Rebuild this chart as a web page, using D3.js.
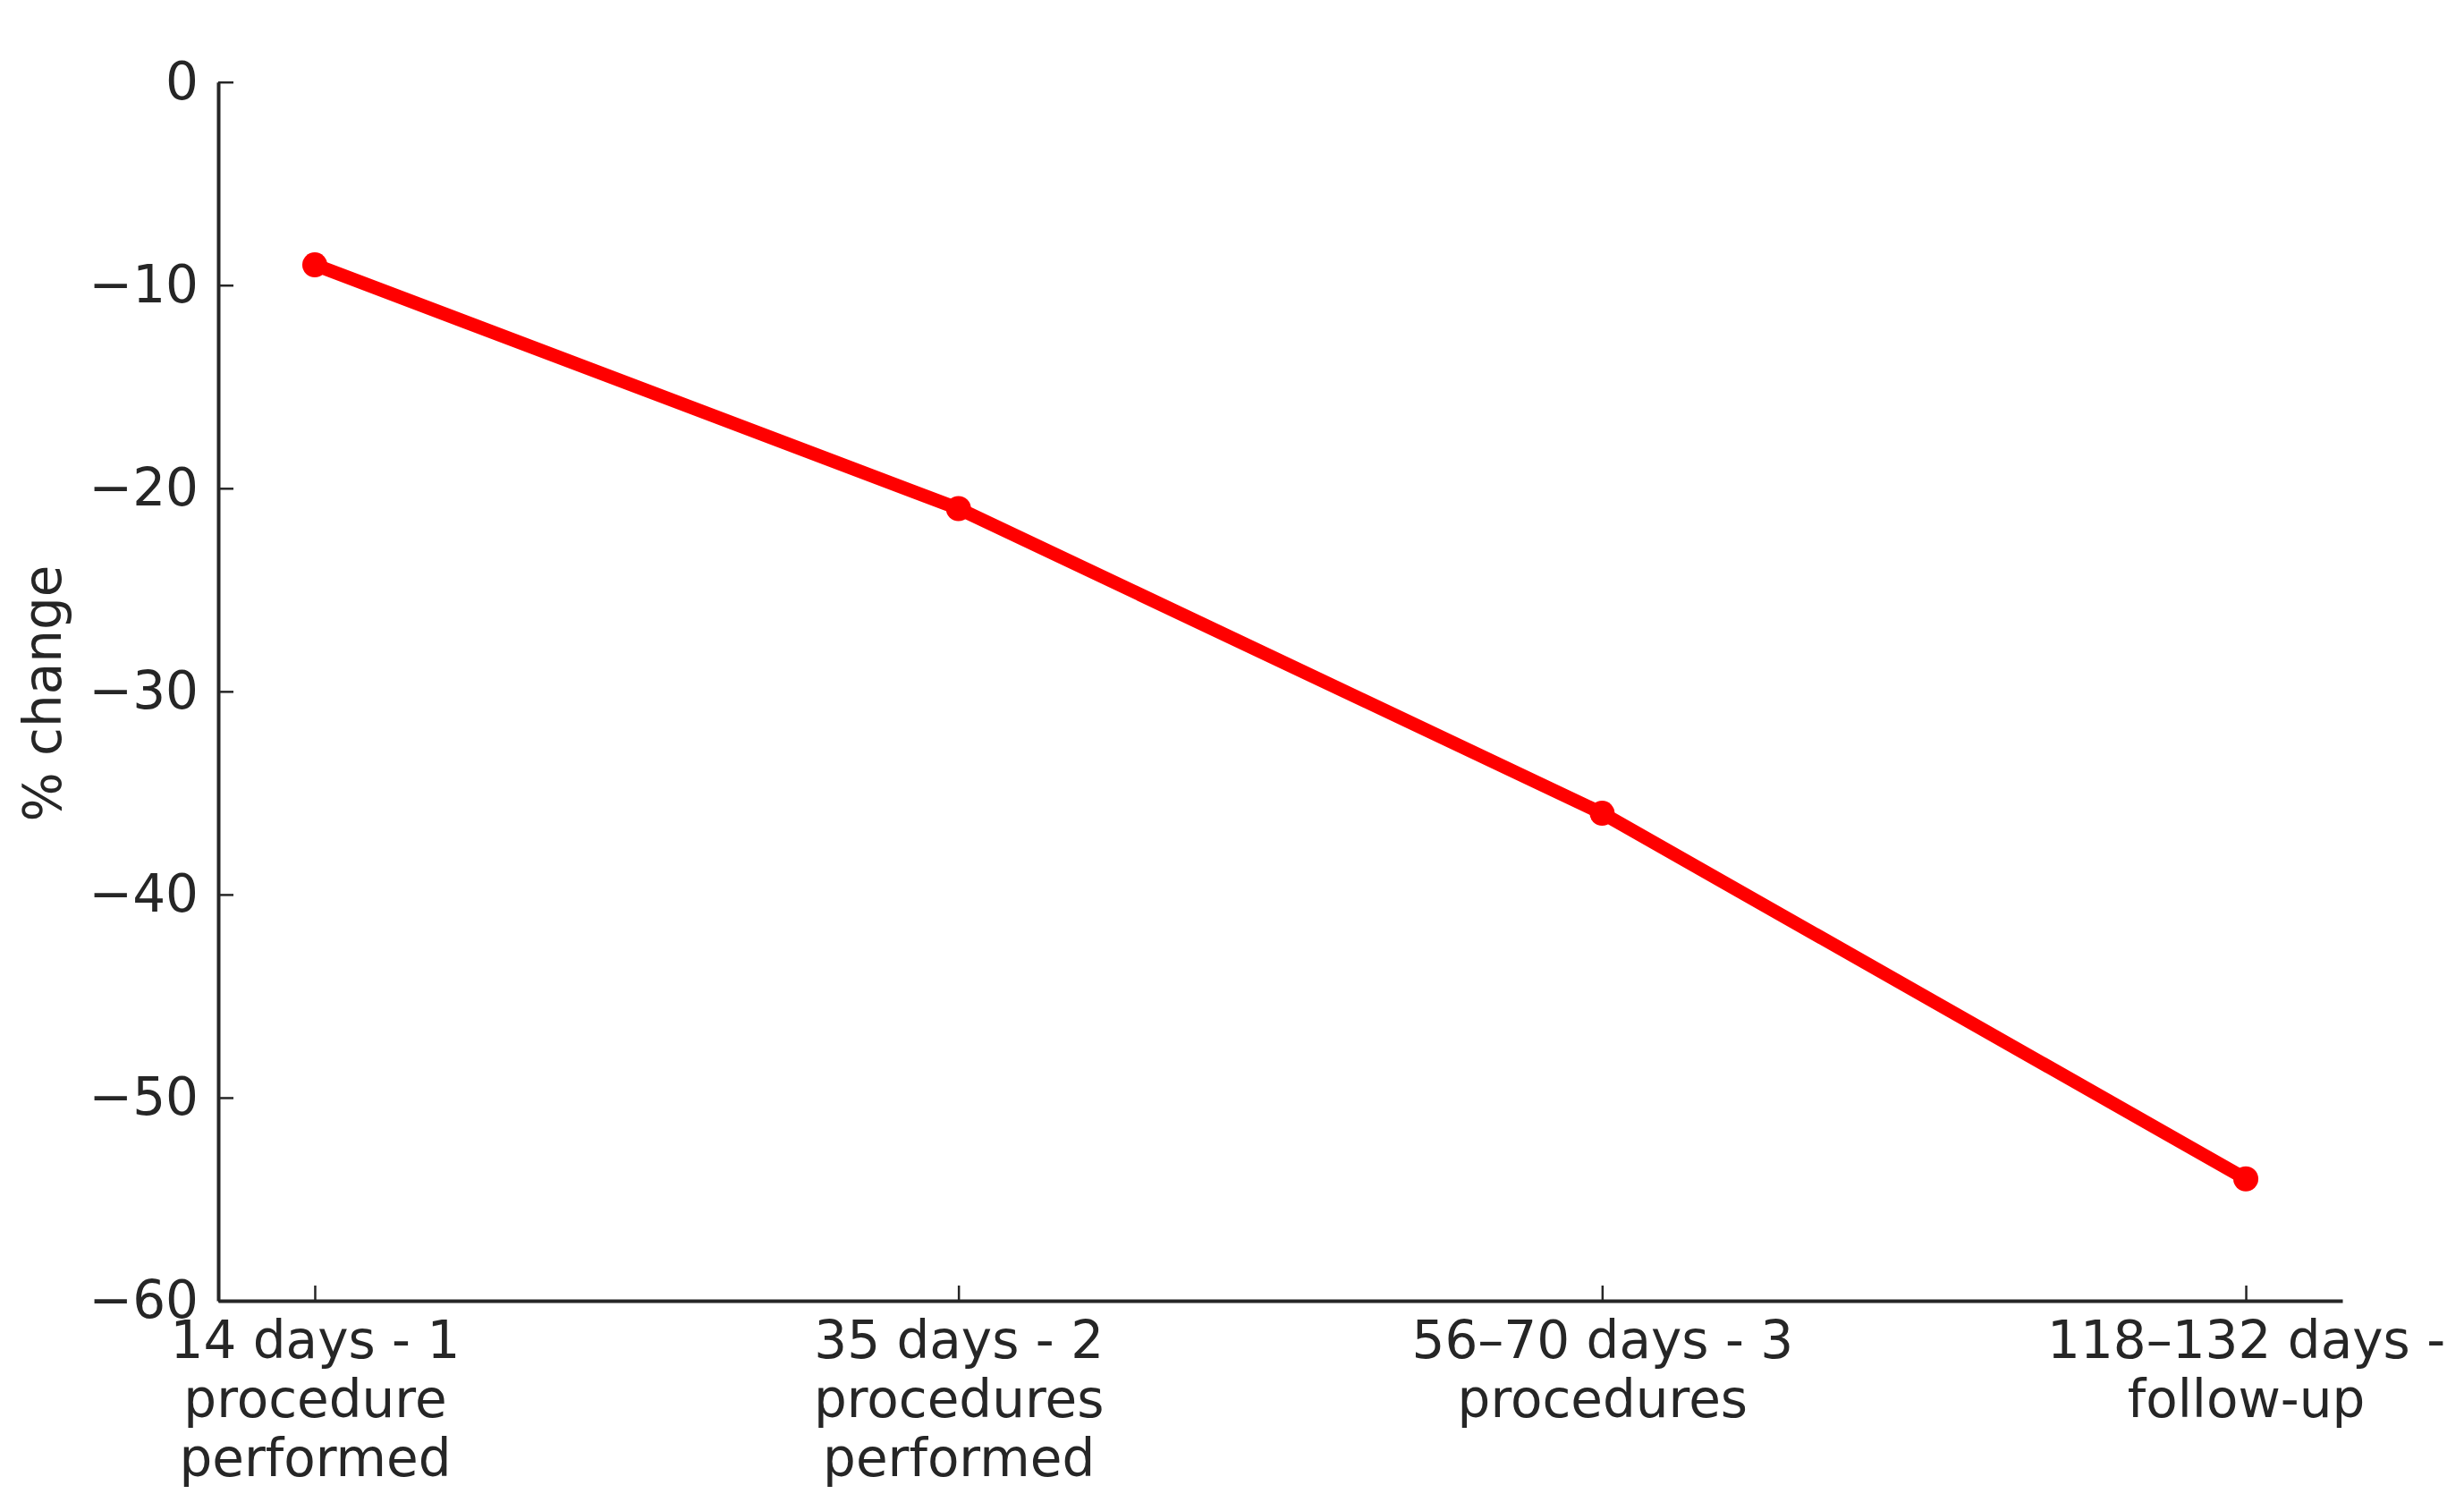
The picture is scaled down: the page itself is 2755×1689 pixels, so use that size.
<!DOCTYPE html>
<html>
<head>
<meta charset="utf-8">
<script src="https://cdn.jsdelivr.net/npm/d3@7"></script>
<style>
  html, body { margin: 0; padding: 0; background: #ffffff; }
  svg { display: block; }
  text { font-family: "DejaVu Sans", sans-serif; fill: #262626; }
</style>
</head>
<body>
<script>
// ---- data ----
const categories = [
  ["14 days - 1", "procedure", "performed"],
  ["35 days - 2", "procedures", "performed"],
  ["56\u201370 days - 3", "procedures"],
  ["118\u2013132 days -", "follow-up"]
];
const values = [-9, -21, -36, -54];
const yTicks = [0, -10, -20, -30, -40, -50, -60];
const yLabel = "% change";

// ---- layout ----
const W = 2755, H = 1689;
const fontSize = 58;
const svg = d3.select("body").append("svg").attr("width", W).attr("height", H);

const x = d3.scaleLinear().domain([-0.15, 3.15]).range([244, 2619]);
const y = d3.scaleLinear().domain([-60, 0]).range([1454, 91.7]);

// y axis
const gy = svg.append("g").attr("transform", `translate(${x.range()[0]},0)`)
  .call(d3.axisLeft(y).tickValues(yTicks).tickSizeInner(-17).tickSizeOuter(0).tickPadding(22)
    .tickFormat(d => d === 0 ? "0" : "\u2212" + Math.abs(d)));
gy.select(".domain").attr("stroke", "#262626").attr("stroke-width", 4);
gy.selectAll(".tick line").attr("stroke", "#262626").attr("stroke-width", 2.5);
gy.selectAll(".tick text").attr("font-size", fontSize).attr("font-family", "DejaVu Sans").attr("fill", "#262626");

// x axis
const gx = svg.append("g").attr("transform", `translate(0,${y.range()[0]})`)
  .call(d3.axisBottom(x).tickValues(d3.range(categories.length)).tickSizeInner(-17).tickSizeOuter(0).tickFormat(""));
gx.select(".domain").attr("stroke", "#262626").attr("stroke-width", 4);
gx.selectAll(".tick line").attr("stroke", "#262626").attr("stroke-width", 2.5);
gx.selectAll(".tick text").each(function(d) {
  const t = d3.select(this).text(null).attr("y", 0).attr("dy", null)
    .attr("font-size", fontSize).attr("font-family", "DejaVu Sans").attr("fill", "#262626")
    .attr("text-anchor", "middle");
  categories[d].forEach((line, i) => {
    t.append("tspan").attr("x", 0).attr("y", 64 + i * 66).text(line);
  });
});

// y label
svg.append("text")
  .attr("transform", `translate(68,775) rotate(-90)`)
  .attr("text-anchor", "middle")
  .attr("font-size", fontSize)
  .text(yLabel);

// line + markers
const line = d3.line().x((d, i) => x(i)).y(d => y(d));
svg.append("path").datum(values)
  .attr("d", line)
  .attr("fill", "none")
  .attr("stroke", "#ff0000")
  .attr("stroke-width", 15)
  .attr("stroke-linejoin", "round")
  .attr("stroke-linecap", "round");
svg.selectAll("circle.pt").data(values).enter().append("circle")
  .attr("class", "pt")
  .attr("cx", (d, i) => x(i))
  .attr("cy", d => y(d))
  .attr("r", 14)
  .attr("fill", "#ff0000");
</script>
</body>
</html>
